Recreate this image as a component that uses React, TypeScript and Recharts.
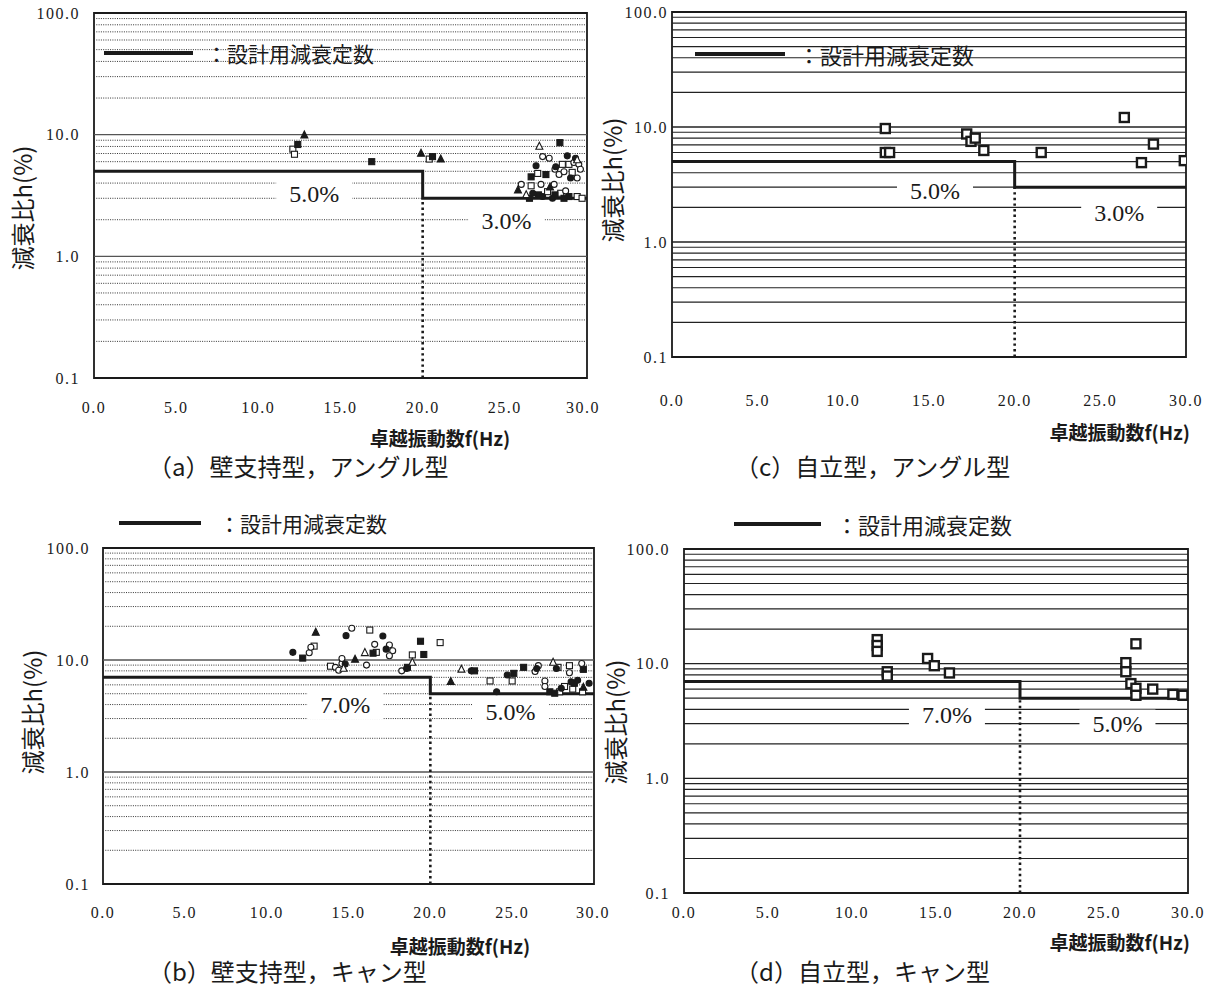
import React from "react";
import { ScatterChart, Scatter, XAxis, YAxis, ReferenceLine, ReferenceDot, ReferenceArea } from "recharts";

type Pt = [number, number];

// axis ticks and grid levels (damping ratio %, log scale)
const X_TICKS = [0, 5, 10, 15, 20, 25, 30];
const Y_TICKS = [0.1, 1, 10, 100];
const GRID_MAJOR = [1, 10];
const GRID_MINOR = [0.2, 0.3, 0.4, 0.5, 0.6, 0.7, 0.8, 0.9, 2, 3, 4, 5, 6, 7, 8, 9, 20, 30, 40, 50, 60, 70, 80, 90];

// design damping constants (step at 20 Hz)
const DESIGN_ANGLE: Pt[] = [[0, 5], [20, 5], [20, 3], [30, 3]];
const DESIGN_CAN: Pt[] = [[0, 7], [20, 7], [20, 5], [30, 5]];

// (a) wall supported, angle type
const A_SQ_FILLED: Pt[] = [[12.4, 8.3], [16.9, 6.0], [20.6, 6.6], [28.35, 8.6], [26.6, 4.5], [27.05, 3.2], [27.5, 4.7], [28.05, 3.2], [28.9, 3.1], [26.5, 3.0], [28.6, 3.0]];
const A_SQ_OPEN: Pt[] = [[12.1, 7.6], [12.2, 6.9], [20.4, 6.3], [27.0, 4.8], [28.5, 5.7], [28.9, 5.7], [29.1, 4.9], [26.6, 3.8], [28.4, 3.3], [29.4, 3.1], [29.7, 3.0], [27.6, 3.4]];
const A_CI_FILLED: Pt[] = [[28.8, 6.7], [26.9, 5.55], [28.1, 5.45], [29.3, 6.4], [26.7, 3.3], [27.3, 3.1], [27.9, 3.0], [29.0, 4.4]];
const A_CI_OPEN: Pt[] = [[27.3, 6.6], [27.7, 6.4], [28.05, 5.2], [29.2, 5.9], [29.5, 5.7], [28.3, 4.7], [28.6, 4.95], [29.4, 4.4], [27.2, 3.9], [26.0, 3.9], [28.0, 3.9], [28.7, 3.45], [29.6, 5.2]];
const A_TR_FILLED: Pt[] = [[12.8, 9.9], [19.9, 7.0], [21.1, 6.3], [25.8, 3.5], [27.75, 3.7]];
const A_TR_OPEN: Pt[] = [[27.1, 8.0], [29.4, 6.2], [26.3, 3.2]];

// (b) wall supported, can type
const B_SQ_FILLED: Pt[] = [[12.2, 10.4], [16.5, 11.5], [18.6, 8.6], [19.4, 14.7], [19.6, 11.2], [22.7, 8.0], [25.1, 7.6], [25.7, 8.6], [27.3, 5.2], [27.6, 5.05], [28.8, 6.2], [29.35, 8.25]];
const B_SQ_OPEN: Pt[] = [[12.9, 13.3], [16.3, 18.5], [16.7, 11.7], [13.9, 8.8], [18.9, 11.1], [20.6, 14.3], [23.65, 6.5], [25.0, 6.5], [27.8, 8.6], [28.5, 8.9], [27.9, 5.2], [28.2, 5.8], [28.7, 5.5], [29.3, 5.2]];
const B_CI_FILLED: Pt[] = [[11.6, 11.7], [14.85, 16.5], [17.1, 16.4], [14.8, 9.2], [18.55, 8.4], [22.5, 8.0], [24.7, 7.35], [24.05, 5.2], [26.5, 8.4], [27.7, 8.4], [28.0, 5.6], [28.6, 6.4], [29.0, 6.6], [29.7, 6.2], [17.3, 12.5]];
const B_CI_OPEN: Pt[] = [[12.6, 11.6], [12.7, 13.0], [15.2, 19.2], [16.6, 13.8], [17.5, 13.6], [17.7, 12.1], [17.5, 10.9], [14.2, 8.6], [14.4, 8.1], [14.6, 9.3], [14.6, 10.3], [16.1, 9.0], [18.25, 8.0], [26.4, 7.9], [26.6, 8.9], [28.5, 7.7], [29.25, 9.3], [27.0, 6.5], [27.0, 5.8]];
const B_TR_FILLED: Pt[] = [[13.0, 17.6], [15.4, 10.1], [21.25, 6.4], [29.35, 5.7]];
const B_TR_OPEN: Pt[] = [[16.0, 11.6], [14.7, 8.4], [18.9, 9.5], [21.9, 8.25], [27.5, 9.5]];

// (c) free standing, angle type
const C_SQ: Pt[] = [[12.45, 9.7], [12.45, 6.0], [12.7, 6.0], [17.2, 8.7], [17.45, 7.5], [17.7, 8.0], [18.2, 6.25], [21.55, 6.0], [26.4, 12.1], [27.4, 4.9], [28.1, 7.1], [29.9, 5.1]];

// (d) free standing, can type
const D_SQ: Pt[] = [[11.5, 16.2], [11.5, 14.4], [11.5, 12.8], [12.1, 8.5], [12.1, 7.8], [14.5, 11.1], [14.9, 9.6], [15.8, 8.3], [26.3, 10.2], [26.3, 8.5], [26.9, 14.9], [26.6, 6.7], [26.9, 6.1], [26.9, 5.3], [27.9, 6.0], [29.1, 5.4], [29.7, 5.3]];

const LEGEND_TEXT = "：設計用減衰定数";
const X_TITLE = "卓越振動数f(Hz)";
const Y_TITLE = "減衰比h(%)";

const SERIF = "'Liberation Serif', 'DejaVu Serif', serif";
const JP = "'Noto Sans CJK JP', 'Noto Sans', sans-serif";
const INK = "#1a1a1a";

const rows = (pts: Pt[]) => pts.map(([f, h]) => ({ f, h }));

const marker = (kind: string, filled: boolean, s: number, sw: number) => (p: any) => {
    const { cx, cy } = p;
    if (cx == null || cy == null) return <g />;
    const fill = filled ? INK : "#fff";
    if (kind === "sq") {
        return <rect x={cx - s / 2} y={cy - s / 2} width={s} height={s} fill={fill} stroke={INK} strokeWidth={sw} />;
    }
    if (kind === "ci") {
        return <circle cx={cx} cy={cy} r={s / 2} fill={fill} stroke={INK} strokeWidth={sw} />;
    }
    return (
        <polygon
            points={`${cx},${cy - s * 0.6} ${cx + s / 2},${cy + s * 0.4} ${cx - s / 2},${cy + s * 0.4}`}
            fill={fill}
            stroke={INK}
            strokeWidth={sw}
        />
    );
};

const pctLabel = (text: string) => (p: any) => (
    <g>
        <rect x={p.cx - 38} y={p.cy - 14} width={76} height={28} fill="#fff" />
        <text x={p.cx} y={p.cy} textAnchor="middle" dominantBaseline="central" fontFamily={SERIF} fontSize={24} fill={INK}>
            {text}
        </text>
    </g>
);

interface Series {
    pts: Pt[];
    kind: string;
    filled: boolean;
    size: number;
    sw: number;
}

interface PanelProps {
    left: number;
    top: number;
    width: number;
    height: number;
    margin: { top: number; right: number; bottom: number; left: number };
    xAxisHeight: number;
    xTickMargin: number;
    yTickMargin: number;
    dotted: boolean;
    design: Pt[];
    lower: number;
    labels: { f: number; h: number; text: string }[];
    series: Series[];
}

function Panel(props: PanelProps) {
    const { dotted } = props;
    const tickStyle = { fontFamily: SERIF, fontSize: 16, fill: INK, letterSpacing: 1.5 };
    return (
        <div style={{ position: "absolute", left: props.left, top: props.top }}>
            <ScatterChart width={props.width} height={props.height} margin={props.margin}>
                <XAxis
                    type="number"
                    dataKey="f"
                    domain={[0, 30]}
                    ticks={X_TICKS}
                    allowDataOverflow
                    axisLine={false}
                    tickLine={false}
                    tickSize={0}
                    tickMargin={props.xTickMargin}
                    height={props.xAxisHeight}
                    tick={tickStyle}
                    tickFormatter={(v: number) => v.toFixed(1)}
                />
                <YAxis
                    type="number"
                    dataKey="h"
                    scale="log"
                    domain={[0.1, 100]}
                    ticks={Y_TICKS}
                    allowDataOverflow
                    axisLine={false}
                    tickLine={false}
                    tickSize={0}
                    tickMargin={props.yTickMargin}
                    width={60}
                    tick={tickStyle}
                    tickFormatter={(v: number) => v.toFixed(1)}
                />
                {GRID_MINOR.map((v) => (
                    <ReferenceLine
                        key={`mn-${v}`}
                        y={v}
                        stroke={dotted ? "#333" : "#222"}
                        strokeWidth={dotted ? 1 : 1.2}
                        strokeDasharray={dotted ? "1 1.3" : undefined}
                    />
                ))}
                {GRID_MAJOR.map((v) => (
                    <ReferenceLine key={`mj-${v}`} y={v} stroke={dotted ? "#555" : "#222"} strokeWidth={dotted ? 1.4 : 1.4} />
                ))}
                {props.labels.map((l) => (
                    <ReferenceDot key={l.text} x={l.f} y={l.h} r={0} ifOverflow="visible" shape={pctLabel(l.text)} />
                ))}
                <ReferenceArea x1={0} x2={30} y1={0.1} y2={100} fill="none" stroke={INK} strokeWidth={1.8} ifOverflow="visible" />
                <ReferenceLine
                    segment={[{ x: 20, y: 0.1 }, { x: 20, y: props.lower }]}
                    stroke={INK}
                    strokeWidth={2.6}
                    strokeDasharray="2.4 3.2"
                    ifOverflow="visible"
                />
                <Scatter
                    data={rows(props.design)}
                    fill={INK}
                    line={{ stroke: INK, strokeWidth: 3 }}
                    shape={() => <g />}
                    isAnimationActive={false}
                />
                {props.series.map((s, i) => (
                    <Scatter
                        key={i}
                        data={rows(s.pts)}
                        fill={INK}
                        shape={marker(s.kind, s.filled, s.size, s.sw)}
                        isAnimationActive={false}
                    />
                ))}
            </ScatterChart>
        </div>
    );
}

function Txt({ x, y, size, children, anchor = "start", family = JP, weight = 400, rotate = false }: any) {
    const tx = anchor === "middle" ? "-50%" : anchor === "end" ? "-100%" : "0";
    return (
        <div
            style={{
                position: "absolute",
                left: x,
                top: y,
                transform: rotate ? "translate(-50%, -50%) rotate(-90deg)" : `translate(${tx}, -50%)`,
                fontFamily: family,
                fontSize: size,
                fontWeight: weight,
                color: INK,
                whiteSpace: "nowrap",
                lineHeight: 1,
            }}
        >
            {children}
        </div>
    );
}

function LegendKey({ x1, x2, y, tx, size }: { x1: number; x2: number; y: number; tx: number; size: number }) {
    return (
        <>
            <div style={{ position: "absolute", left: x1, top: y - 2, width: x2 - x1, height: 4, background: INK }} />
            <Txt x={tx} y={y} size={size}>{LEGEND_TEXT}</Txt>
        </>
    );
}

const small = (pts: Pt[], kind: string, filled: boolean): Series => ({ pts, kind, filled, size: kind === "tr" ? 7 : 6, sw: 1.1 });

export default function App() {
    return (
        <div style={{ position: "absolute", left: 0, top: 0, width: 1218, height: 998, background: "#fff", overflow: "hidden" }}>
            {/* (a) */}
            <Panel
                left={0}
                top={0}
                width={600}
                height={430}
                margin={{ top: 13, right: 13, bottom: 0, left: 34 }}
                xAxisHeight={52}
                xTickMargin={24}
                yTickMargin={14}
                dotted
                design={DESIGN_ANGLE}
                lower={3}
                labels={[{ f: 13.4, h: 3.25, text: "5.0%" }, { f: 25.1, h: 1.95, text: "3.0%" }]}
                series={[
                    small(A_SQ_OPEN, "sq", false),
                    small(A_SQ_FILLED, "sq", true),
                    small(A_CI_OPEN, "ci", false),
                    small(A_CI_FILLED, "ci", true),
                    small(A_TR_OPEN, "tr", false),
                    small(A_TR_FILLED, "tr", true),
                ]}
            />
            {/* (c) */}
            <Panel
                left={600}
                top={0}
                width={618}
                height={430}
                margin={{ top: 12, right: 32, bottom: 0, left: 12 }}
                xAxisHeight={73}
                xTickMargin={38}
                yTickMargin={4}
                dotted={false}
                design={DESIGN_ANGLE}
                lower={3}
                labels={[{ f: 15.35, h: 2.8, text: "5.0%" }, { f: 26.1, h: 1.78, text: "3.0%" }]}
                series={[{ pts: C_SQ, kind: "sq", filled: false, size: 9, sw: 2.4 }]}
            />
            {/* (b) */}
            <Panel
                left={0}
                top={500}
                width={610}
                height={430}
                margin={{ top: 48, right: 16, bottom: 0, left: 43 }}
                xAxisHeight={46}
                xTickMargin={23}
                yTickMargin={13}
                dotted
                design={DESIGN_CAN}
                lower={5}
                labels={[{ f: 14.8, h: 3.95, text: "7.0%" }, { f: 24.9, h: 3.4, text: "5.0%" }]}
                series={[
                    small(B_SQ_OPEN, "sq", false),
                    small(B_SQ_FILLED, "sq", true),
                    small(B_CI_OPEN, "ci", false),
                    small(B_CI_FILLED, "ci", true),
                    small(B_TR_OPEN, "tr", false),
                    small(B_TR_FILLED, "tr", true),
                ]}
            />
            {/* (d) */}
            <Panel
                left={600}
                top={500}
                width={618}
                height={430}
                margin={{ top: 49, right: 30, bottom: 0, left: 24 }}
                xAxisHeight={37}
                xTickMargin={14}
                yTickMargin={14}
                dotted={false}
                design={DESIGN_CAN}
                lower={5}
                labels={[{ f: 15.65, h: 3.6, text: "7.0%" }, { f: 25.8, h: 3.0, text: "5.0%" }]}
                series={[{ pts: D_SQ, kind: "sq", filled: false, size: 9, sw: 2.4 }]}
            />

            <LegendKey x1={104} x2={193} y={53} tx={206} size={21} />
            <LegendKey x1={695} x2={785} y={54} tx={798} size={22} />
            <LegendKey x1={119} x2={201} y={523} tx={219} size={21} />
            <LegendKey x1={734} x2={821} y={524} tx={836} size={22} />

            <Txt x={22} y={208} size={24} rotate>{Y_TITLE}</Txt>
            <Txt x={612} y={180} size={24} rotate>{Y_TITLE}</Txt>
            <Txt x={32} y={712} size={24} rotate>{Y_TITLE}</Txt>
            <Txt x={615} y={722} size={24} rotate>{Y_TITLE}</Txt>

            <Txt x={440} y={437} size={19} weight={700} anchor="middle">{X_TITLE}</Txt>
            <Txt x={1190} y={431} size={19} weight={700} anchor="end">{X_TITLE}</Txt>
            <Txt x={460} y={945} size={19} weight={700} anchor="middle">{X_TITLE}</Txt>
            <Txt x={1190} y={941} size={19} weight={700} anchor="end">{X_TITLE}</Txt>

            <Txt x={148} y={466} size={24}>（a）壁支持型，アングル型</Txt>
            <Txt x={735} y={466} size={24}>（c）自立型，アングル型</Txt>
            <Txt x={148} y={971} size={24}>（b）壁支持型，キャン型</Txt>
            <Txt x={735} y={971} size={24}>（d）自立型，キャン型</Txt>
        </div>
    );
}
